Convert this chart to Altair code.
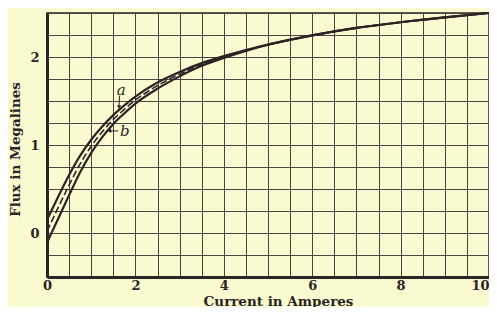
import altair as alt
import pandas as pd

# Current in amperes
current = [0, 0.25, 0.5, 0.75, 1.0, 1.25, 1.5, 1.75, 2.0, 2.5, 3.0, 3.5, 4.0, 4.5,
           5, 6, 7, 8, 9, 10]
# Flux in megalines for the three curves
flux_upper = [0.15, 0.41, 0.66, 0.88, 1.06, 1.21, 1.34, 1.45, 1.55, 1.71, 1.83, 1.93, 2.01, 2.08,
              2.14, 2.245, 2.33, 2.395, 2.45, 2.50]
flux_mid = [0.02, 0.285, 0.545, 0.785, 0.985, 1.15, 1.29, 1.405, 1.51, 1.675, 1.805, 1.915, 2.00, 2.075,
            2.14, 2.245, 2.33, 2.395, 2.45, 2.50]
flux_lower = [-0.11, 0.16, 0.43, 0.69, 0.91, 1.09, 1.24, 1.36, 1.47, 1.64, 1.78, 1.90, 1.99, 2.07,
              2.14, 2.245, 2.33, 2.395, 2.45, 2.50]

x_ticks = [i * 0.5 for i in range(21)]
y_ticks = [-0.5 + i * 0.25 for i in range(13)]

# annotations (data units)
ann_labels = ["a", "b"]
ann_x = [1.58, 1.65]
ann_y = [1.63, 1.16]
arrow_x = [1.64, 1.61]
arrow_y = [1.56, 1.16]
arrow_x2 = [1.63, 1.41]
arrow_y2 = [1.43, 1.16]

rows = []
for name, vals in [("upper", flux_upper), ("mid", flux_mid), ("lower", flux_lower)]:
    for c, f in zip(current, vals):
        rows.append({"current": c, "flux": f, "curve": name})
df = pd.DataFrame(rows)

ink = "#2b2424"
grid_c = "#4a4444"

xscale = alt.Scale(domain=[0, 10], nice=False, zero=False)
yscale = alt.Scale(domain=[-0.5, 2.5], nice=False, zero=False)

xaxis = alt.Axis(values=x_ticks, labelExpr="datum.value % 2 == 0 ? format(datum.value, 'd') : ''",
                 title="Current in Amperes", grid=True, gridColor=grid_c, gridWidth=1,
                 gridOpacity=1, ticks=False, domainWidth=3, domainColor=ink,
                 labelFont="DejaVu Serif", labelFontWeight="bold", labelFontSize=13,
                 labelColor=ink, labelPadding=2, labelFlush=False,
                 labelAlign={"condition": {"test": "datum.value == 10", "value": "right"},
                             "value": "center"},
                 labelOverlap=False,
                 titleFont="DejaVu Serif", titleFontWeight="bold", titleFontSize=13.5,
                 titleColor=ink, titleX=231, titleY=28, titleBaseline="alphabetic")
yaxis = alt.Axis(values=y_ticks,
                 labelExpr="(datum.value % 1 == 0 && datum.value >= 0 && datum.value <= 2) ? format(datum.value, 'd') : ''",
                 title="Flux in Megalines", grid=True, gridColor=grid_c, gridWidth=1,
                 gridOpacity=1, ticks=False, domainWidth=3, domainColor=ink,
                 labelFont="DejaVu Serif", labelFontWeight="bold", labelFontSize=13,
                 labelColor=ink, labelPadding=8, labelFlush=False, labelOverlap=False,
                 titleFont="DejaVu Serif", titleFontWeight="bold", titleFontSize=13.5,
                 titleColor=ink, titleX=-25, titleY=136)

solid = alt.Chart(df).transform_filter("datum.curve != 'mid'").mark_line(
    color=ink, strokeWidth=2.2, interpolate="monotone"
).encode(
    x=alt.X("current:Q", scale=xscale, axis=xaxis),
    y=alt.Y("flux:Q", scale=yscale, axis=yaxis),
    detail="curve:N",
)

dashed = alt.Chart(df).transform_filter("datum.curve == 'mid'").mark_line(
    color=ink, strokeWidth=1.6, strokeDash=[7, 3], interpolate="monotone"
).encode(
    x=alt.X("current:Q", scale=xscale, axis=xaxis),
    y=alt.Y("flux:Q", scale=yscale, axis=yaxis),
)

ann_df = pd.DataFrame({"label": ann_labels, "x": ann_x, "y": ann_y,
                       "ax": arrow_x, "ay": arrow_y, "ax2": arrow_x2, "ay2": arrow_y2})

texts = alt.Chart(ann_df).mark_text(
    font="DejaVu Serif", fontStyle="italic", fontSize=15, color=ink, align="left", baseline="middle"
).encode(
    x=alt.X("x:Q", scale=xscale, axis=xaxis), y=alt.Y("y:Q", scale=yscale, axis=yaxis), text="label:N"
)

arrows = alt.Chart(ann_df).mark_rule(color=ink, strokeWidth=1).encode(
    x=alt.X("ax:Q", scale=xscale, axis=xaxis), y=alt.Y("ay:Q", scale=yscale, axis=yaxis),
    x2="ax2:Q", y2="ay2:Q",
)

heads = alt.Chart(ann_df).mark_point(
    filled=True, color=ink, size=18, opacity=1
).encode(
    x=alt.X("ax2:Q", scale=xscale, axis=xaxis), y=alt.Y("ay2:Q", scale=yscale, axis=yaxis),
    shape=alt.Shape("label:N", scale=alt.Scale(domain=["a", "b"],
                                               range=["triangle-down", "triangle-left"]),
                    legend=None),
)

chart = alt.layer(solid, dashed, arrows, heads, texts).properties(
    width=442, height=264,
    background="#fafad0",
    autosize=alt.AutoSizeParams(type="none"),
    padding={"left": 39, "top": 5, "right": 0, "bottom": 30},
).configure_view(
    stroke=ink, strokeWidth=1.5, fill="#fafad0"
)

chart.save("out.html", embed_options={"renderer": "svg", "actions": False})
